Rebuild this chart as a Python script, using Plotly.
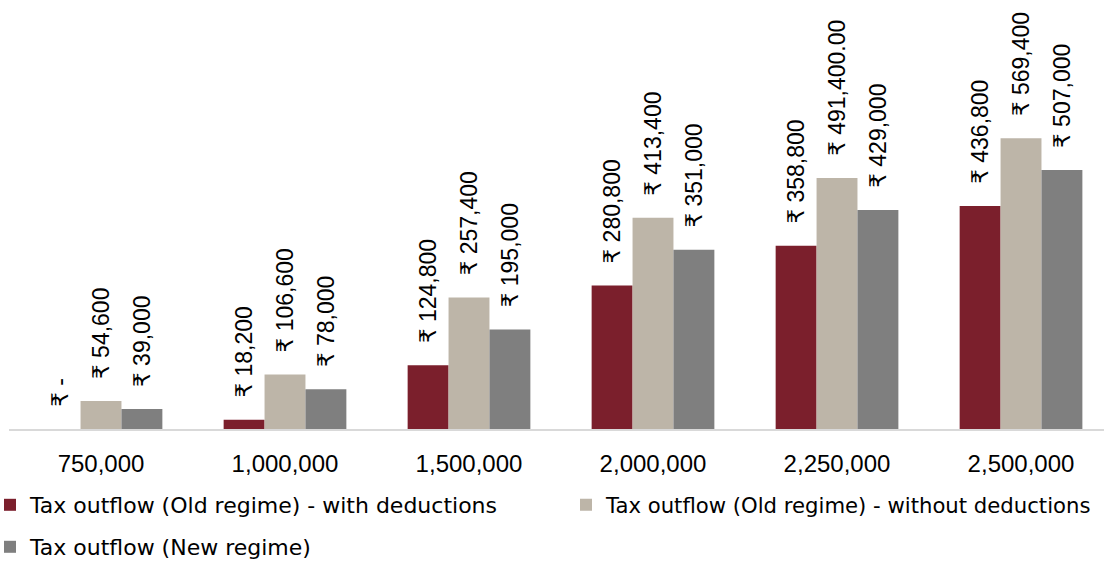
import plotly.graph_objects as go

# Gross income brackets (x categories)
categories = ["750,000", "1,000,000", "1,500,000", "2,000,000", "2,250,000", "2,500,000"]

# Tax outflow per regime (₹)
old_with_deductions = [0, 18200, 124800, 280800, 358800, 436800]
old_without_deductions = [54600, 106600, 257400, 413400, 491400, 569400]
new_regime = [39000, 78000, 195000, 351000, 429000, 507000]

# Data labels that show decimal places (index -> places)
old_without_places = {4: 2}

series_names = [
    "Tax outflow (Old regime) - with deductions",
    "Tax outflow (Old regime) - without deductions",
    "Tax outflow (New regime)",
]


def rupee(v, places=0):
    if v == 0:
        return "₹ -"
    return f"₹ {v:,.{places}f}"


def labels(values, places=None):
    places = places or {}
    # leading no-break spaces keep the rotated label clear of the bar top
    return ["\u00a0" * 3 + rupee(v, places.get(i, 0)) for i, v in enumerate(values)]


W, H = 1104, 561
L, R, T, B = 9, 0, 0, 132
PLOT_W = W - L - R
PLOT_H = H - T - B


def px_to_paper(x, y):
    return (x - L) / PLOT_W, (H - B - y) / PLOT_H


LABEL_FONT = dict(family="Liberation Sans, Arial, DejaVu Sans", size=23, color="#000000")
TICK_FONT = dict(family="Liberation Sans, Arial", size=24, color="#000000")
LEGEND_FONT = dict(family="DejaVu Sans, sans-serif", size=22, color="#000000")
# the right-hand legend entry is a touch smaller so it stays inside the page
LEGEND_FONT_RIGHT = dict(LEGEND_FONT, size=21.2)

traces = [
    (series_names[0], old_with_deductions, {}, "#7B1F2C", "legend", (-10, 505), LEGEND_FONT),
    (series_names[1], old_without_deductions, old_without_places, "#BDB5A8", "legend2", (566, 505), LEGEND_FONT_RIGHT),
    (series_names[2], new_regime, {}, "#7F7F7F", "legend3", (-10, 547), LEGEND_FONT),
]

fig = go.Figure()
layout_legends = {}
for name, vals, places, color, leg, (lx, ly), lfont in traces:
    fig.add_trace(
        go.Bar(
            x=categories,
            y=vals,
            name=name,
            marker=dict(color=color, line=dict(width=0)),
            text=labels(vals, places),
            textposition="outside",
            textangle=-90,
            constraintext="none",
            cliponaxis=False,
            textfont=LABEL_FONT,
            legend=leg,
        )
    )
    px, py = px_to_paper(lx, ly)
    layout_legends[leg] = dict(
        x=px,
        y=py,
        xanchor="left",
        yanchor="middle",
        orientation="h",
        font=lfont,
        bgcolor="rgba(0,0,0,0)",
        borderwidth=0,
    )

fig.update_layout(
    width=W,
    height=H,
    margin=dict(l=L, r=R, t=T, b=B, autoexpand=False),
    paper_bgcolor="white",
    plot_bgcolor="white",
    barmode="group",
    bargap=0.333,
    bargroupgap=0,
    showlegend=True,
    **layout_legends,
)

fig.update_xaxes(
    type="category",
    range=[-0.5, 5.451],
    showline=True,
    linecolor="#D9D9D9",
    linewidth=2,
    ticks="outside",
    ticklen=12,
    tickcolor="rgba(0,0,0,0)",
    tickfont=TICK_FONT,
    showgrid=False,
    zeroline=False,
)
fig.update_yaxes(
    range=[0, 840000],
    showgrid=False,
    showticklabels=False,
    zeroline=False,
    showline=False,
)

fig.write_html("out.html")
